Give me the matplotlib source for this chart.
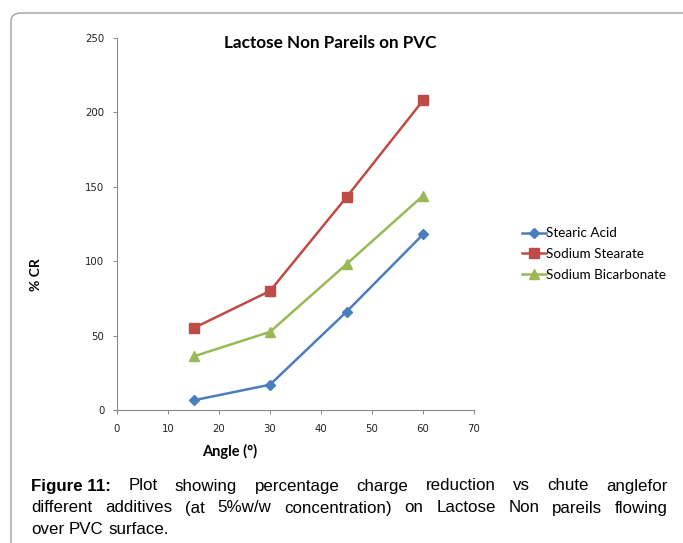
import numpy as np
import matplotlib.pyplot as plt
from matplotlib.patches import FancyBboxPatch

# data
angles = [15, 30, 45, 60]
stearic_acid = [6.5, 17, 66, 118]
sodium_stearate = [55, 80, 143, 208]
sodium_bicarb = [36, 52.5, 98, 144]

caption_lines = [
    "Plot showing percentage charge reduction vs chute anglefor",
    "different additives (at 5%w/w concentration) on Lactose Non pareils flowing",
    "over PVC surface.",
]

W, H = 683, 543
fig = plt.figure(figsize=(W / 100, H / 100), dpi=100)

# rounded frame around the figure panel
frame = FancyBboxPatch((11 / W, -0.2), 1.0, 1.2 - 13 / H,
                       boxstyle="round,pad=0,rounding_size=0.015",
                       transform=fig.transFigure, fill=False,
                       edgecolor='#a0a0a0', linewidth=1.0)
fig.patches.append(frame)

ax = fig.add_axes([117 / W, 1 - 410 / H, (474 - 117) / W, (410 - 38) / H])

ax.plot(angles, stearic_acid, color='#4a7ebb', marker='D', markersize=5,
        linewidth=1.8, label='Stearic Acid')
ax.plot(angles, sodium_stearate, color='#be4b48', marker='s', markersize=6.5,
        linewidth=1.8, label='Sodium Stearate')
ax.plot(angles, sodium_bicarb, color='#98b954', marker='^', markersize=6.5,
        linewidth=1.8, label='Sodium Bicarbonate')

ax.set_xlim(0, 70)
ax.set_ylim(0, 250)
ax.set_xticks(np.arange(0, 71, 10))
ax.set_yticks(np.arange(0, 251, 50))
for s in ['top', 'right']:
    ax.spines[s].set_visible(False)
for s in ['left', 'bottom']:
    ax.spines[s].set_color('#888888')
    ax.spines[s].set_linewidth(0.8)
ax.tick_params(axis='both', labelsize=7.3, color='#888888', length=3,
               width=0.7, labelcolor='#222222')
ax.tick_params(axis='x', pad=7)
ax.tick_params(axis='y', pad=6)

fig.text(330 / W, 1 - 43 / H, 'Lactose Non Pareils on PVC', ha='center',
         va='center', fontsize=12.3, fontweight='bold', family='Lato')
fig.text(230 / W, 1 - 451 / H, 'Angle (°)', ha='center', va='center',
         fontsize=10.5, fontweight='bold', family='Lato')
fig.text(36 / W, 1 - 275 / H, '% CR', ha='center', va='center', rotation=90,
         fontsize=10, fontweight='bold', family='Lato')

leg = ax.legend(loc='center left', bbox_to_anchor=(522 / W, 1 - 254 / H),
                bbox_transform=fig.transFigure, frameon=False,
                prop={'family': 'Lato', 'size': 9.7}, handlelength=1.75,
                handletextpad=0.05, labelspacing=0.65, borderaxespad=0,
                borderpad=0)

# caption, justified lines
fig.canvas.draw()
r = fig.canvas.get_renderer()
x0, x1 = 31, 668
ys = [486, 508, 530]
cap_font = dict(family='Liberation Sans', fontsize=12.2)


def text_width(s):
    t = fig.text(0, 0, s, **cap_font)
    w = t.get_window_extent(renderer=r).width
    t.remove()
    return w


space = text_width('a a') - text_width('aa')

for i, line in enumerate(caption_lines):
    words = line.split(' ')
    items = []
    if i == 0:
        items.append(('Figure 11:', 'bold'))
    items += [(w, 'normal') for w in words]
    texts = []
    widths = []
    for w, wt in items:
        t = fig.text(0, 1 - ys[i] / H, w, va='center', ha='left',
                     fontweight=wt, **cap_font)
        texts.append(t)
        widths.append(t.get_window_extent(renderer=r).width)
    if i < len(caption_lines) - 1:
        gap = (x1 - x0 - sum(widths)) / (len(items) - 1)
    else:
        gap = space
    x = x0
    for t, wd in zip(texts, widths):
        t.set_x(x / W)
        x += wd + gap

fig.savefig('out.png', dpi=100)
